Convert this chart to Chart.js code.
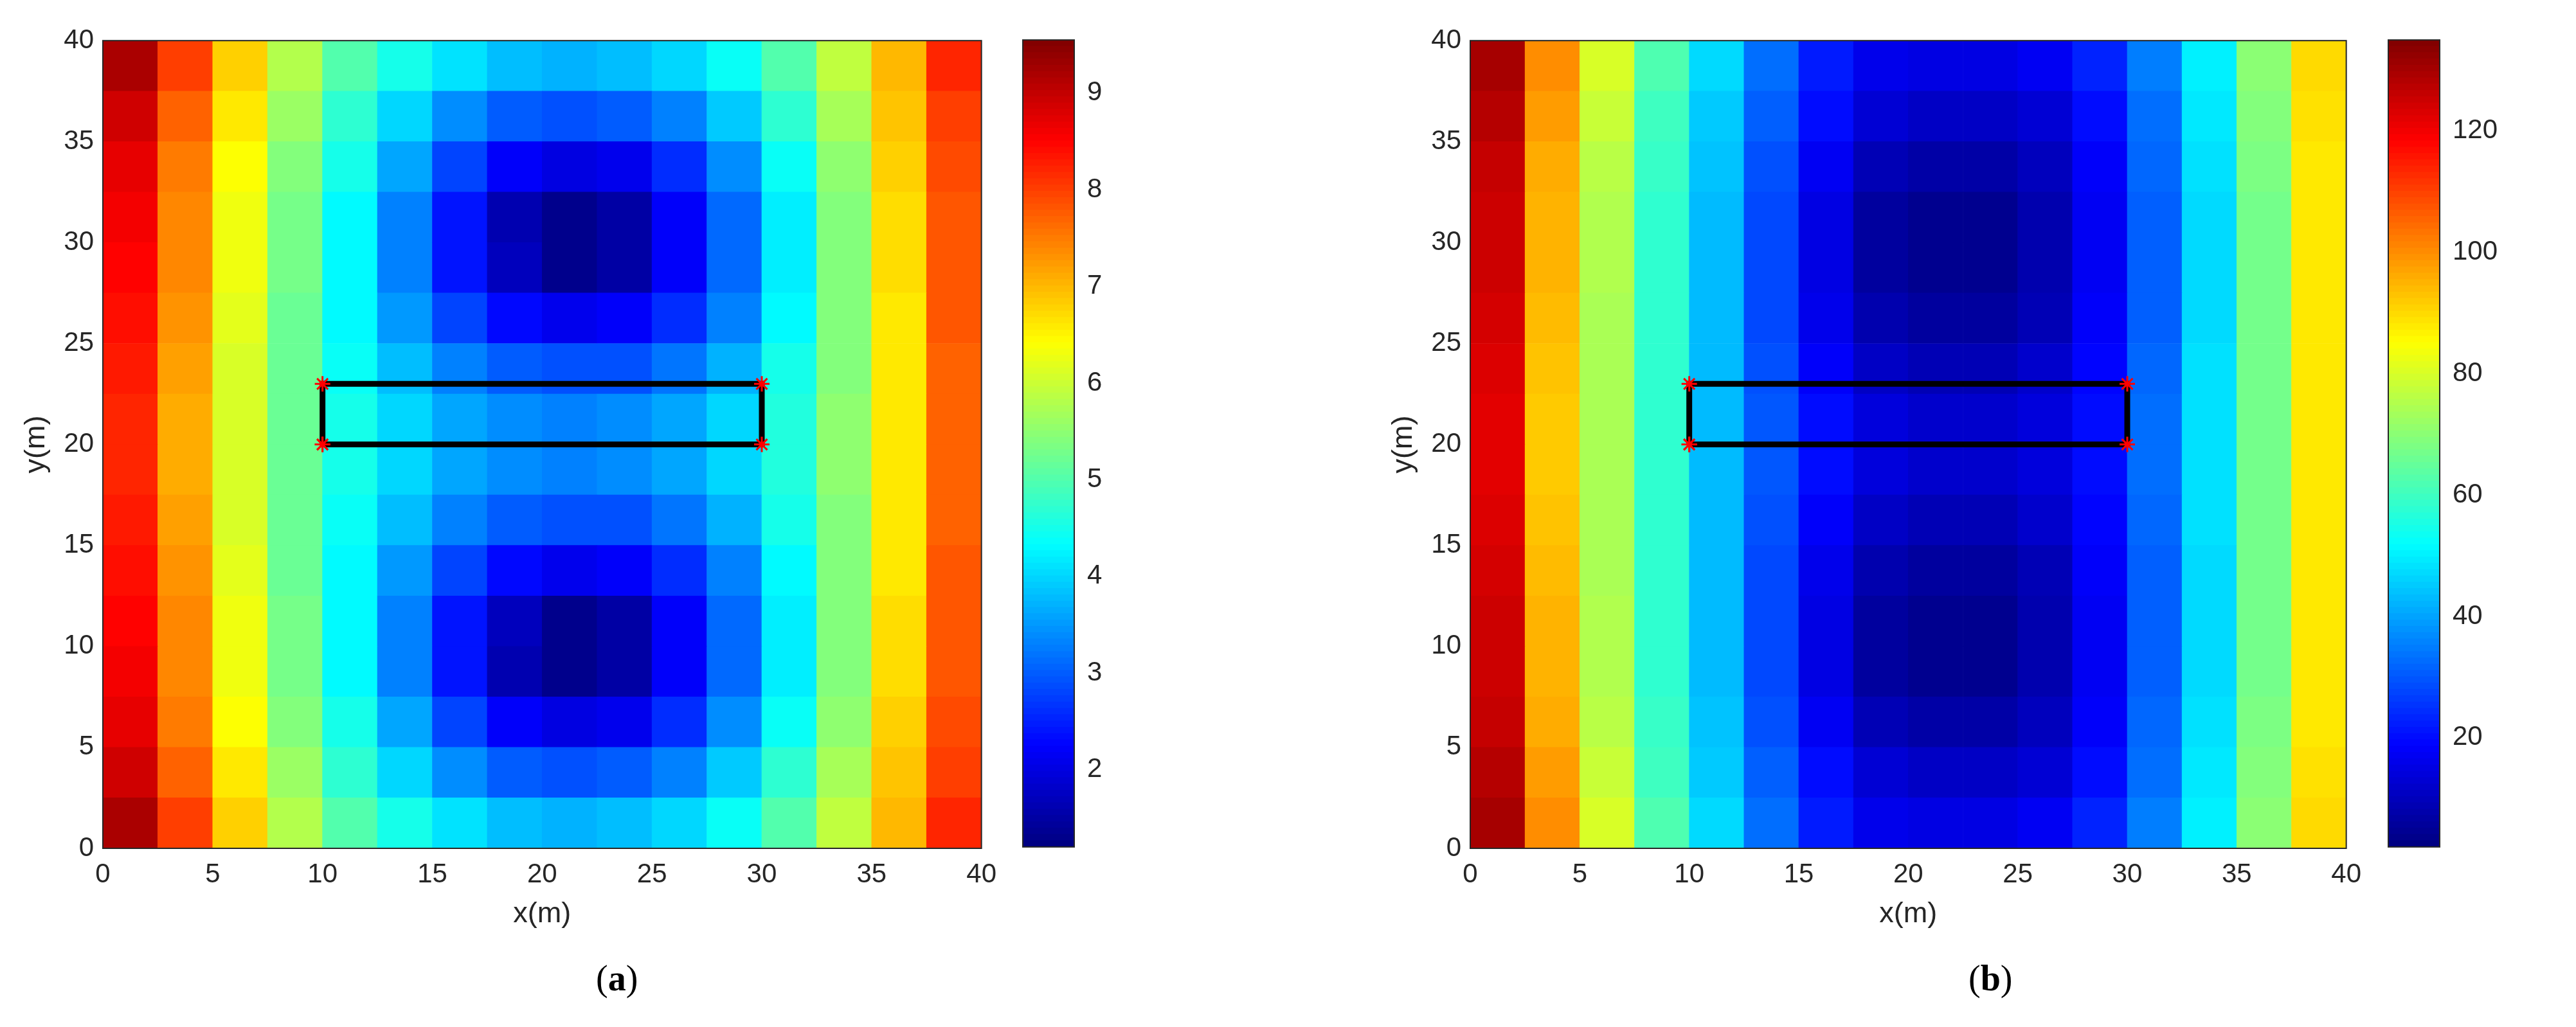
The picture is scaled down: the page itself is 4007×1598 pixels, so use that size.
<!DOCTYPE html>
<html>
<head>
<meta charset="utf-8">
<script src="https://cdn.jsdelivr.net/npm/chart.js@4/dist/chart.umd.min.js"></script>
<style>
  body { margin: 0; width: 4007px; height: 1598px; background: #fff; position: relative; font-family: "Liberation Sans", Arial, sans-serif; }
  .box { position: absolute; }
  .cap { position: absolute; top: 1490px; font-family: "Liberation Serif", serif; font-size: 56px; }
</style>
</head>
<body>
<div class="box" style="left:30px;top:32px;width:1528px;height:1418px"><canvas id="mapA"></canvas></div>
<div class="box" style="left:1581px;top:25px;width:200px;height:1330px"><canvas id="barA"></canvas></div>
<div class="box" style="left:2157px;top:32px;width:1524px;height:1418px"><canvas id="mapB"></canvas></div>
<div class="box" style="left:3705px;top:25px;width:220px;height:1330px"><canvas id="barB"></canvas></div>
<div class="cap" style="left:927px">(<b>a</b>)</div>
<div class="cap" style="left:3062px">(<b>b</b>)</div>
<script>
// cell centres (m), 2.5 m grid
const xCenters = [1.25,3.75,6.25,8.75,11.25,13.75,16.25,18.75,21.25,23.75,26.25,28.75,31.25,33.75,36.25,38.75];
const yCenters = [1.25,3.75,6.25,8.75,11.25,13.75,16.25,18.75,21.25,23.75,26.25,28.75,31.25,33.75,36.25,38.75];
const axisTicks = [0,5,10,15,20,25,30,35,40];

// field (a), rows bottom to top
const fieldA = [
  [9.2,8.0,6.8,5.8,5.0,4.5,4.1,3.8,3.7,3.8,4.0,4.4,5.0,5.9,7.0,8.2],
  [8.9,7.7,6.6,5.6,4.7,4.0,3.4,3.0,2.9,3.0,3.3,3.9,4.7,5.7,6.9,8.0],
  [8.7,7.5,6.4,5.4,4.5,3.6,2.8,2.2,2.0,2.1,2.6,3.4,4.4,5.5,6.8,7.9],
  [8.6,7.4,6.3,5.3,4.3,3.3,2.4,1.6,1.3,1.5,2.2,3.1,4.2,5.4,6.7,7.8],
  [8.5,7.4,6.3,5.3,4.3,3.3,2.4,1.7,1.3,1.5,2.2,3.1,4.2,5.4,6.7,7.8],
  [8.4,7.3,6.2,5.2,4.3,3.5,2.8,2.3,2.1,2.2,2.6,3.3,4.3,5.4,6.6,7.8],
  [8.3,7.2,6.1,5.2,4.4,3.8,3.3,3.0,2.9,2.9,3.2,3.7,4.5,5.4,6.6,7.7],
  [8.2,7.1,6.1,5.2,4.5,4.0,3.6,3.4,3.3,3.4,3.6,4.0,4.6,5.5,6.6,7.7],
  [8.2,7.1,6.1,5.2,4.5,4.0,3.6,3.4,3.3,3.4,3.6,4.0,4.6,5.5,6.6,7.7],
  [8.3,7.2,6.1,5.2,4.4,3.8,3.3,3.0,2.9,2.9,3.2,3.7,4.5,5.4,6.6,7.7],
  [8.4,7.3,6.2,5.2,4.3,3.5,2.8,2.3,2.1,2.2,2.6,3.3,4.3,5.4,6.6,7.8],
  [8.5,7.4,6.3,5.3,4.3,3.3,2.4,1.7,1.3,1.5,2.2,3.1,4.2,5.4,6.7,7.8],
  [8.6,7.4,6.3,5.3,4.3,3.3,2.4,1.6,1.3,1.5,2.2,3.1,4.2,5.4,6.7,7.8],
  [8.7,7.5,6.4,5.4,4.5,3.6,2.8,2.2,2.0,2.1,2.6,3.4,4.4,5.5,6.8,7.9],
  [8.9,7.7,6.6,5.6,4.7,4.0,3.4,3.0,2.9,3.0,3.3,3.9,4.7,5.7,6.9,8.0],
  [9.2,8.0,6.8,5.8,5.0,4.5,4.1,3.8,3.7,3.8,4.0,4.4,5.0,5.9,7.0,8.2]
];
const rangeA = [1.2, 9.55];
const cbarTicksA = [2,3,4,5,6,7,8,9];

// field (b), rows bottom to top
const fieldB = [
  [130,100,80,62,47,33,22,16,15,15,17,23,35,50,70,90],
  [128,98,78,60,45,31,20,13,11,11,13,20,33,49,69,89],
  [126,96,76,59,44,29,17,9,7,7,10,18,32,48,68,88],
  [125,95,75,58,43,28,15,6,4,4,8,17,31,47,67,88],
  [125,95,75,58,43,28,15,6,4,4,8,17,31,47,67,88],
  [124,94,74,58,43,28,16,8,6,6,9,18,31,47,67,88],
  [123,93,74,58,43,29,18,11,9,9,12,19,32,48,67,88],
  [122,92,74,58,43,30,20,14,12,12,14,20,33,48,67,88],
  [122,92,74,58,43,30,20,14,12,12,14,20,33,48,67,88],
  [123,93,74,58,43,29,18,11,9,9,12,19,32,48,67,88],
  [124,94,74,58,43,28,16,8,6,6,9,18,31,47,67,88],
  [125,95,75,58,43,28,15,6,4,4,8,17,31,47,67,88],
  [125,95,75,58,43,28,15,6,4,4,8,17,31,47,67,88],
  [126,96,76,59,44,29,17,9,7,7,10,18,32,48,68,88],
  [128,98,78,60,45,31,20,13,11,11,13,20,33,49,69,89],
  [130,100,80,62,47,33,22,16,15,15,17,23,35,50,70,90]
];
const rangeB = [2, 135];
const cbarTicksB = [20,40,60,80,100,120];

// building outline corners
const outlineX = [10,10,30,30,10];
const outlineY = [20,23,23,20,20];

const FONT = { family: '"Liberation Sans", Arial, sans-serif', size: 42 };
const TXT = '#262626';

function jet(t) {
  t = Math.min(1, Math.max(0, t));
  const r = Math.min(1, Math.max(0, 1.5 - Math.abs(4 * t - 3)));
  const g = Math.min(1, Math.max(0, 1.5 - Math.abs(4 * t - 2)));
  const b = Math.min(1, Math.max(0, 1.5 - Math.abs(4 * t - 1)));
  return `rgb(${Math.round(r*255)},${Math.round(g*255)},${Math.round(b*255)})`;
}

const frame = {
  id: 'frame',
  afterDraw(chart) {
    const a = chart.chartArea, ctx = chart.ctx;
    ctx.save();
    ctx.strokeStyle = '#262626';
    ctx.lineWidth = 2;
    ctx.strokeRect(a.left, a.top, a.right - a.left, a.bottom - a.top);
    ctx.restore();
  }
};

function makeMap(id, field, range) {
  const datasets = [{
    type: 'line',
    data: outlineX.map((x, i) => ({ x: x, y: outlineY[i] })),
    borderColor: '#000',
    borderWidth: 9,
    pointStyle: 'star',
    pointRadius: 12,
    pointBorderColor: '#ff0000',
    pointBorderWidth: 3,
    order: 0
  }];
  field.forEach((row, j) => {
    datasets.push({
      type: 'bar',
      data: row.map((v, i) => ({ x: xCenters[i], y: [yCenters[j] - 1.25, yCenters[j] + 1.25] })),
      backgroundColor: row.map(v => jet((v - range[0]) / (range[1] - range[0]))),
      borderWidth: 0,
      barPercentage: 1.0,
      categoryPercentage: 1.0,
      grouped: false,
      order: 1
    });
  });
  new Chart(document.getElementById(id), {
    data: { datasets },
    options: {
      responsive: true, maintainAspectRatio: false, animation: false,
      layout: { padding: { top: 10, right: 10 } },
      plugins: { legend: { display: false }, tooltip: { enabled: false } },
      scales: {
        x: {
          type: 'linear', min: 0, max: 40, offset: false,
          afterBuildTicks: s => { s.ticks = axisTicks.map(v => ({ value: v })); },
          afterFit: s => { s.height = 130; },
          grid: { display: false },
          border: { display: false },
          ticks: { color: TXT, font: FONT, maxRotation: 0, padding: 8 },
          title: { display: true, text: 'x(m)', color: TXT, font: { family: FONT.family, size: 45 }, padding: 0 }
        },
        y: {
          type: 'linear', min: 0, max: 40,
          afterBuildTicks: s => { s.ticks = axisTicks.map(v => ({ value: v })); },
          afterFit: s => { s.width = 130; },
          grid: { display: false },
          border: { display: false },
          ticks: { color: TXT, font: FONT, padding: 6 },
          title: { display: true, text: 'y(m)', color: TXT, font: { family: FONT.family, size: 45 }, padding: 0 }
        }
      }
    },
    plugins: [frame]
  });
}

function makeBar(id, range, ticks) {
  // colour bar drawn as stacked floating bars across the value range
  const steps = 128;
  const levels = [];
  for (let k = 0; k < steps; k++) levels.push(range[0] + (range[1] - range[0]) * k / steps);
  const dh = (range[1] - range[0]) / steps;
  new Chart(document.getElementById(id), {
    type: 'bar',
    data: {
      labels: [''],
      datasets: levels.map(l => ({
        data: [[l, l + dh * 1.02]],
        backgroundColor: jet((l + dh / 2 - range[0]) / (range[1] - range[0])),
        borderWidth: 0, barPercentage: 1, categoryPercentage: 1, grouped: false
      }))
    },
    options: {
      responsive: true, maintainAspectRatio: false, animation: false,
      layout: { padding: { top: 0, left: 10 } },
      plugins: { legend: { display: false }, tooltip: { enabled: false } },
      scales: {
        x: { display: false, afterFit: s => { s.height = 0; } },
        y: {
          position: 'right', min: range[0], max: range[1],
          afterBuildTicks: s => { s.ticks = ticks.map(v => ({ value: v })); },
          afterFit: s => { s.width = id === 'barA' ? 110 : 130; },
          grid: { display: false }, border: { display: false },
          ticks: { color: TXT, font: FONT, padding: 12 }
        }
      }
    },
    plugins: [frame]
  });
}

makeMap('mapA', fieldA, rangeA);
makeMap('mapB', fieldB, rangeB);
makeBar('barA', rangeA, cbarTicksA);
makeBar('barB', rangeB, cbarTicksB);
</script>
</body>
</html>
